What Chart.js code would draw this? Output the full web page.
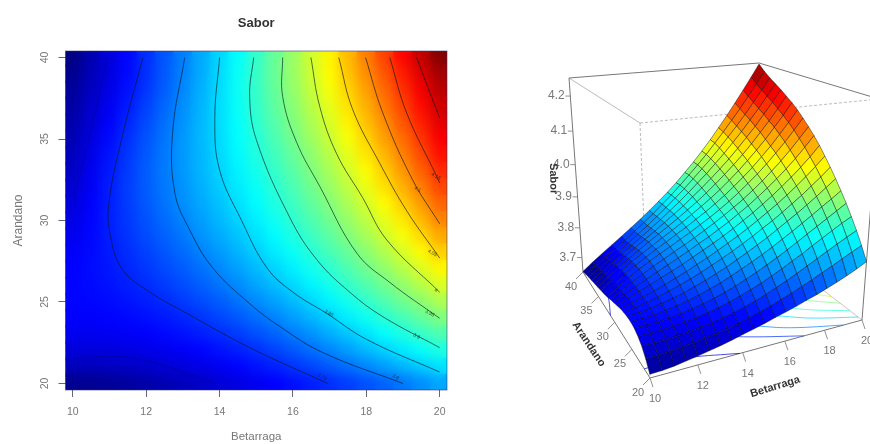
<!DOCTYPE html>
<html>
<head>
<meta charset="utf-8">
<title>Sabor</title>
<script src="https://cdn.jsdelivr.net/npm/chart.js@4"></script>
<style>
  html, body { margin: 0; padding: 0; background: #fff; }
  #page { position: relative; width: 870px; height: 444px; overflow: hidden; }
  canvas { position: absolute; top: 0; filter: blur(0.5px); }
  #mapChart { left: 0; }
  #surfaceChart { left: 480px; }
</style>
</head>
<body>
<div id="page">
  <canvas id="mapChart" width="480" height="444"></canvas>
  <canvas id="surfaceChart" width="390" height="444"></canvas>
</div>
<script>
// values
const betarraga = [10, 10.5, 11, 11.5, 12, 12.5, 13, 13.5, 14, 14.5, 15, 15.5, 16, 16.5, 17, 17.5, 18, 18.5, 19, 19.5, 20];
const arandano = [40, 39, 38, 37, 36, 35, 34, 33, 32, 31, 30, 29, 28, 27, 26, 25, 24, 23, 22, 21, 20];

// one row per arandano value, one column per betarraga value
const sabor = [
  [3.652, 3.679, 3.704, 3.728, 3.752, 3.776, 3.800, 3.825, 3.851, 3.877, 3.905, 3.935, 3.965, 3.997, 4.030, 4.065, 4.100, 4.136, 4.173, 4.210, 4.247],
  [3.659, 3.682, 3.706, 3.729, 3.752, 3.777, 3.801, 3.826, 3.853, 3.879, 3.907, 3.936, 3.965, 3.995, 4.027, 4.059, 4.092, 4.125, 4.160, 4.195, 4.230],
  [3.665, 3.688, 3.710, 3.733, 3.756, 3.780, 3.804, 3.829, 3.854, 3.880, 3.906, 3.934, 3.962, 3.990, 4.020, 4.051, 4.082, 4.114, 4.148, 4.182, 4.216],
  [3.670, 3.694, 3.717, 3.739, 3.762, 3.785, 3.808, 3.831, 3.855, 3.879, 3.904, 3.930, 3.956, 3.984, 4.012, 4.042, 4.072, 4.104, 4.136, 4.170, 4.204],
  [3.675, 3.700, 3.723, 3.746, 3.768, 3.790, 3.811, 3.833, 3.855, 3.877, 3.901, 3.925, 3.950, 3.976, 4.003, 4.032, 4.062, 4.092, 4.125, 4.158, 4.192],
  [3.680, 3.706, 3.730, 3.752, 3.773, 3.794, 3.814, 3.834, 3.854, 3.875, 3.896, 3.919, 3.943, 3.968, 3.994, 4.021, 4.050, 4.081, 4.112, 4.145, 4.179],
  [3.685, 3.711, 3.735, 3.757, 3.777, 3.796, 3.815, 3.833, 3.852, 3.872, 3.892, 3.913, 3.935, 3.959, 3.984, 4.011, 4.039, 4.068, 4.100, 4.132, 4.166],
  [3.690, 3.716, 3.739, 3.759, 3.779, 3.797, 3.814, 3.832, 3.849, 3.868, 3.886, 3.906, 3.927, 3.950, 3.974, 3.999, 4.027, 4.055, 4.086, 4.118, 4.151],
  [3.696, 3.720, 3.741, 3.761, 3.779, 3.796, 3.812, 3.829, 3.845, 3.863, 3.880, 3.899, 3.919, 3.941, 3.964, 3.988, 4.014, 4.042, 4.071, 4.102, 4.134],
  [3.703, 3.723, 3.742, 3.760, 3.777, 3.793, 3.809, 3.824, 3.840, 3.857, 3.874, 3.892, 3.911, 3.931, 3.953, 3.976, 4.001, 4.027, 4.055, 4.085, 4.116],
  [3.709, 3.726, 3.742, 3.758, 3.773, 3.788, 3.803, 3.818, 3.834, 3.849, 3.866, 3.883, 3.902, 3.921, 3.942, 3.964, 3.987, 4.012, 4.038, 4.067, 4.097],
  [3.715, 3.728, 3.742, 3.755, 3.769, 3.782, 3.796, 3.811, 3.826, 3.841, 3.857, 3.874, 3.892, 3.910, 3.930, 3.951, 3.973, 3.996, 4.021, 4.047, 4.076],
  [3.721, 3.730, 3.740, 3.751, 3.763, 3.775, 3.788, 3.802, 3.816, 3.831, 3.847, 3.863, 3.880, 3.898, 3.917, 3.936, 3.957, 3.979, 4.002, 4.027, 4.053],
  [3.725, 3.731, 3.738, 3.747, 3.757, 3.768, 3.779, 3.792, 3.806, 3.820, 3.835, 3.851, 3.867, 3.885, 3.902, 3.921, 3.941, 3.961, 3.983, 4.005, 4.029],
  [3.727, 3.730, 3.735, 3.742, 3.750, 3.759, 3.770, 3.781, 3.794, 3.807, 3.822, 3.837, 3.853, 3.869, 3.887, 3.905, 3.923, 3.942, 3.962, 3.983, 4.004],
  [3.727, 3.728, 3.731, 3.736, 3.742, 3.750, 3.759, 3.769, 3.780, 3.793, 3.807, 3.821, 3.836, 3.852, 3.869, 3.886, 3.904, 3.922, 3.941, 3.959, 3.978],
  [3.724, 3.724, 3.726, 3.729, 3.734, 3.740, 3.747, 3.756, 3.766, 3.777, 3.790, 3.803, 3.818, 3.833, 3.849, 3.866, 3.883, 3.900, 3.917, 3.934, 3.951],
  [3.716, 3.717, 3.718, 3.721, 3.724, 3.729, 3.735, 3.742, 3.751, 3.761, 3.772, 3.784, 3.798, 3.812, 3.828, 3.843, 3.860, 3.876, 3.892, 3.908, 3.922],
  [3.704, 3.705, 3.706, 3.709, 3.712, 3.716, 3.721, 3.727, 3.735, 3.743, 3.753, 3.764, 3.777, 3.790, 3.804, 3.819, 3.834, 3.849, 3.864, 3.878, 3.892],
  [3.685, 3.687, 3.689, 3.692, 3.696, 3.700, 3.705, 3.711, 3.718, 3.726, 3.735, 3.744, 3.755, 3.766, 3.779, 3.791, 3.805, 3.818, 3.832, 3.846, 3.859],
  [3.660, 3.661, 3.664, 3.669, 3.674, 3.680, 3.686, 3.693, 3.701, 3.708, 3.716, 3.725, 3.733, 3.742, 3.752, 3.761, 3.772, 3.783, 3.795, 3.808, 3.823]
];

const contourLevels = [3.70, 3.70, 3.75, 3.80, 3.85, 3.90, 3.95, 4.00, 4.05, 4.10, 4.15, 4.20];
const contourLines = [
  [[10.95, 40], [10.33, 34], [10, 31.3]],
  [[10, 21.57], [11.63, 21.57], [13.65, 20.2], [13.87, 20]],
  [[11.91, 40], [11.34, 35.1], [10.98, 31], [11.03, 29], [11.35, 27], [12.1, 25.6], [13.11, 24.3], [14.82, 22.2], [16.95, 20]],
  [[13.05, 40], [12.72, 35.4], [12.78, 31.7], [13.19, 29.4], [13.81, 27.1], [14.82, 24.9], [15.64, 23.5], [16.81, 21.9], [19, 20]],
  [[14, 40], [13.87, 36.2], [14, 33.1], [14.6, 30], [15.29, 27.1], [16, 25.6], [16.92, 24.3], [18.01, 22.7], [20, 20.7]],
  [[14.93, 40], [14.82, 37.6], [15.01, 34.9], [15.91, 30.2], [16.65, 27.6], [17.55, 25.6], [18.45, 24.1], [20, 22.2]],
  [[15.72, 40], [15.72, 37.6], [16.1, 34.8], [16.73, 32.1], [17.74, 28], [18.64, 26.2], [20, 24]],
  [[16.49, 40], [16.73, 37], [17.19, 34.1], [17.9, 31.4], [18.56, 28.8], [20, 25.6]],
  [[17.25, 40], [17.63, 36.8], [18.37, 33.5], [19.1, 30.6], [20, 27.7]],
  [[17.98, 40], [18.45, 36.6], [19.26, 32.5], [20, 29.8]],
  [[18.64, 40], [19.1, 36.6], [19.92, 32.7], [20, 32.3]],
  [[19.37, 40], [19.81, 37.4], [20, 36.3]]
];

// small labels sitting on the contour lines
const labelText = ["3.75", "3.8", "3.85", "3.9", "3.95", "4", "4.05", "4.1", "4.15"];
const labelX = [16.8, 18.8, 16.98, 19.37, 19.73, 19.9, 19.8, 19.4, 19.9];
const labelY = [20.4, 20.4, 24.3, 22.9, 24.3, 25.7, 28.0, 31.9, 32.7];

const xTicks = [10, 12, 14, 16, 18, 20];
const yTicks = [20, 25, 30, 35, 40];
const zTicks = [3.7, 3.8, 3.9, 4.0, 4.1, 4.2];
const zMin = 3.65;
const zMax = 4.25;

const jetStops = [[0, 0, 127], [0, 0, 255], [0, 127, 255], [0, 255, 255], [127, 255, 127], [255, 255, 0], [255, 127, 0], [255, 0, 0], [127, 0, 0]];

function jet(z) {
  const t = Math.min(0.9999, Math.max(0, (z - zMin) / (zMax - zMin))) * 8;
  const i = Math.floor(t);
  const f = t - i;
  const a = jetStops[i];
  const b = jetStops[i + 1];
  return "rgb(" + Math.round(a[0] + (b[0] - a[0]) * f) + "," + Math.round(a[1] + (b[1] - a[1]) * f) + "," + Math.round(a[2] + (b[2] - a[2]) * f) + ")";
}

// ---- left panel: image + contour ----
const heatPoints = [];
const heatColors = [];
arandano.forEach((y, r) => {
  betarraga.forEach((x, c) => {
    heatPoints.push({ x: x, y: y });
    heatColors.push(jet(sabor[r][c]));
  });
});

const mapDatasets = contourLines.map((line, i) => ({
  label: "Sabor " + contourLevels[i],
  data: line.map(p => ({ x: p[0], y: p[1] })),
  showLine: true,
  tension: 0.4,
  borderColor: i < 2 ? "rgba(0,0,60,0.25)" : "rgba(0,20,30,0.62)",
  borderWidth: 1,
  pointRadius: 0
}));
mapDatasets.push({
  label: "Sabor",
  data: heatPoints,
  showLine: false,
  pointStyle: "rect",
  pointRadius: 13.5,
  pointBorderWidth: 0,
  pointBackgroundColor: heatColors
});
const heatIndex = mapDatasets.length - 1;

const mapPlugin = {
  id: "mapPlugin",
  afterDatasetDraw(chart, args) {
    // soften the cell edges before the contours go on top
    if (args.index !== heatIndex) return;
    const a = chart.chartArea;
    const ctx = chart.ctx;
    ctx.save();
    ctx.beginPath();
    ctx.rect(a.left, a.top, a.right - a.left, a.bottom - a.top);
    ctx.clip();
    ctx.filter = "blur(6px)";
    ctx.drawImage(chart.canvas, a.left, a.top, a.right - a.left, a.bottom - a.top, a.left, a.top, a.right - a.left, a.bottom - a.top);
    ctx.restore();
  },
  afterDraw(chart) {
    const ctx = chart.ctx;
    const a = chart.chartArea;
    const sx = chart.scales.x;
    const sy = chart.scales.y;
    ctx.save();
    ctx.strokeStyle = "rgba(50,50,110,0.55)";
    ctx.lineWidth = 1;
    ctx.strokeRect(a.left, a.top, a.right - a.left, a.bottom - a.top);

    ctx.fillStyle = "#777";
    ctx.font = "10.5px 'Liberation Sans'";
    ctx.textAlign = "center";
    ctx.textBaseline = "middle";
    yTicks.forEach(v => {
      ctx.save();
      ctx.translate(45, sy.getPixelForValue(v));
      ctx.rotate(-Math.PI / 2);
      ctx.fillText(String(v), 0, 0);
      ctx.restore();
    });

    ctx.fillStyle = "rgba(20,30,30,0.75)";
    ctx.font = "5px 'Liberation Sans'";
    labelText.forEach((t, i) => {
      ctx.save();
      ctx.translate(sx.getPixelForValue(labelX[i]), sy.getPixelForValue(labelY[i]));
      ctx.rotate(0.5);
      ctx.fillText(t, 0, 0);
      ctx.restore();
    });
    ctx.restore();
  }
};

new Chart(document.getElementById("mapChart"), {
  type: "scatter",
  data: { datasets: mapDatasets },
  plugins: [mapPlugin],
  options: {
    responsive: false,
    animation: false,
    layout: { padding: { right: 33 } },
    plugins: {
      legend: { display: false },
      tooltip: { enabled: false },
      title: {
        display: true,
        text: "Sabor",
        fullSize: false,
        color: "#333",
        font: { family: "'Liberation Sans'", size: 13, weight: "bold", lineHeight: 1.2 },
        padding: { top: 16, bottom: 19.4 }
      }
    },
    scales: {
      x: {
        min: 9.8,
        max: 20.2,
        afterBuildTicks: s => { s.ticks = xTicks.map(v => ({ value: v })); },
        afterFit: s => { s.height = 54; },
        grid: { drawOnChartArea: false, color: "#667", tickLength: 7 },
        border: { display: false },
        ticks: { color: "#777", font: { family: "'Liberation Sans'", size: 10.5 }, padding: 9, maxRotation: 0 },
        title: { display: true, text: "Betarraga", color: "#777", font: { family: "'Liberation Sans'", size: 11.5 }, padding: { top: 0, bottom: 0 } }
      },
      y: {
        min: 19.6,
        max: 40.4,
        afterBuildTicks: s => { s.ticks = yTicks.map(v => ({ value: v })); },
        afterFit: s => { s.width = 65.5; },
        grid: { drawOnChartArea: false, color: "#667", tickLength: 7 },
        border: { display: false },
        ticks: { display: false },
        title: { display: true, text: "Arandano", color: "#777", font: { family: "'Liberation Sans'", size: 12 }, padding: { top: 11, bottom: 0 } }
      }
    }
  }
});

// ---- right panel: the same table seen in perspective ----
// where the corners of the box land on the canvas (x10/y40, x10/y20, x20/y20, x20/y40), floor then roof
const floorCorners = [[103, 272], [170, 378], [382, 320], [282, 243]];
const roofCorners = [[89, 78], [160, 123], [399, 99], [279, 63]];

function warp(t, a) {
  return a * t / (1 + (a - 1) * t);
}

function project(x, y, z) {
  const u = warp((x - 10) / 10, 1.165);
  const v = warp((40 - y) / 20, 0.9);
  const w = (z - zMin) / (zMax - zMin);
  const h = w / (1 + 0.13 * (1 - w));
  const blend = c => {
    const px = (1 - u) * (1 - v) * c[0][0] + (1 - u) * v * c[1][0] + u * v * c[2][0] + u * (1 - v) * c[3][0];
    const py = (1 - u) * (1 - v) * c[0][1] + (1 - u) * v * c[1][1] + u * v * c[2][1] + u * (1 - v) * c[3][1];
    return [px, py];
  };
  const f = blend(floorCorners);
  const r = blend(roofCorners);
  return { x: f[0] + (r[0] - f[0]) * h, y: f[1] + (r[1] - f[1]) * h };
}

const surfaceDatasets = [];

// nearest facets first: the first dataset is painted last
for (let r = arandano.length - 2; r >= 0; r--) {
  for (let c = 0; c < betarraga.length - 1; c++) {
    const mean = (sabor[r][c] + sabor[r][c + 1] + sabor[r + 1][c] + sabor[r + 1][c + 1]) / 4;
    surfaceDatasets.push({
      label: "facet",
      data: [
        project(betarraga[c], arandano[r], sabor[r][c]),
        project(betarraga[c + 1], arandano[r], sabor[r][c + 1]),
        project(betarraga[c + 1], arandano[r + 1], sabor[r + 1][c + 1]),
        project(betarraga[c], arandano[r + 1], sabor[r + 1][c]),
        project(betarraga[c], arandano[r], sabor[r][c])
      ],
      showLine: true,
      fill: "shape",
      backgroundColor: jet(mean),
      borderColor: "rgba(0,0,0,0.6)",
      borderWidth: 0.7,
      pointRadius: 0,
      tension: 0
    });
  }
}

// contours on the floor of the box
contourLines.forEach((line, i) => {
  surfaceDatasets.push({
    label: "floor " + contourLevels[i],
    data: line.map(p => project(p[0], p[1], zMin)),
    showLine: true,
    borderColor: jet(contourLevels[i]),
    borderWidth: 0.7,
    pointRadius: 0,
    tension: 0.4
  });
});

function boxEdge(a, b, dashed, color, width) {
  surfaceDatasets.push({
    label: "box",
    data: [project(a[0], a[1], a[2]), project(b[0], b[1], b[2])],
    showLine: true,
    borderColor: color,
    borderDash: dashed ? [3, 2] : [],
    borderWidth: width,
    pointRadius: 0
  });
}

boxEdge([10, 40, zMin], [10, 20, zMin], false, "#777", 1);
boxEdge([10, 20, zMin], [20, 20, zMin], false, "#777", 1);
boxEdge([20, 20, zMin], [20, 20, zMax], false, "#777", 1);
boxEdge([10, 40, zMin], [10, 40, zMax], false, "#777", 1);
boxEdge([10, 40, zMax], [20, 40, zMax], false, "#777", 1);
boxEdge([20, 40, zMax], [20, 20, zMax], false, "#777", 1);
boxEdge([10, 40, zMax], [10, 20, zMax], false, "#aaa", 0.8);
boxEdge([10, 20, zMax], [20, 20, zMax], true, "#aaa", 0.8);
boxEdge([10, 20, zMax], [10, 20, zMin], true, "#aaa", 0.8);
boxEdge([20, 20, zMin], [20, 40, zMin], false, "#c9a0a0", 0.7);
boxEdge([20, 40, zMin], [10, 40, zMin], true, "#bbb", 0.7);

function tickMark(p, dx, dy) {
  surfaceDatasets.push({
    label: "tick",
    data: [p, { x: p.x + dx, y: p.y + dy }],
    showLine: true,
    borderColor: "#777",
    borderWidth: 0.8,
    pointRadius: 0
  });
}

xTicks.forEach(v => tickMark(project(v, 20, zMin), 3, 9));
yTicks.forEach(v => tickMark(project(10, v, zMin), -7, 7));
zTicks.forEach(v => tickMark(project(10, 40, v), -5, 0));

const surfaceText = {
  id: "surfaceText",
  afterDraw(chart) {
    const ctx = chart.ctx;
    const sx = chart.scales.x;
    const sy = chart.scales.y;
    const put = (p, dx, dy, t) => ctx.fillText(t, sx.getPixelForValue(p.x) + dx, sy.getPixelForValue(p.y) + dy);
    ctx.save();
    ctx.textAlign = "center";
    ctx.textBaseline = "middle";
    ctx.fillStyle = "#777";
    ctx.font = "11px 'Liberation Sans'";
    xTicks.forEach(v => put(project(v, 20, zMin), 5, 21, String(v)));
    yTicks.forEach(v => put(project(10, v, zMin), -12, 15, String(v)));
    ctx.font = "12px 'Liberation Sans'";
    zTicks.forEach(v => put(project(10, 40, v), -14, 0, v.toFixed(1)));

    ctx.fillStyle = "#333";
    ctx.font = "bold 11px 'Liberation Sans'";
    const titled = (p, dx, dy, angle, t) => {
      ctx.save();
      ctx.translate(sx.getPixelForValue(p.x) + dx, sy.getPixelForValue(p.y) + dy);
      ctx.rotate(angle);
      ctx.fillText(t, 0, 0);
      ctx.restore();
    };
    titled(project(15, 20, zMin), 11, 40, -0.3, "Betarraga");
    titled(project(10, 30, zMin), -26, 22, 0.98, "Arandano");
    titled(project(10, 40, 4.0), -22, 14, 1.55, "Sabor");
    ctx.restore();
  }
};

new Chart(document.getElementById("surfaceChart"), {
  type: "scatter",
  data: { datasets: surfaceDatasets },
  plugins: [surfaceText],
  options: {
    responsive: false,
    animation: false,
    layout: { padding: 0 },
    plugins: { legend: { display: false }, tooltip: { enabled: false } },
    scales: {
      x: { display: false, min: 0, max: 390 },
      y: { display: false, min: 0, max: 444, reverse: true }
    }
  }
});
</script>
</body>
</html>
